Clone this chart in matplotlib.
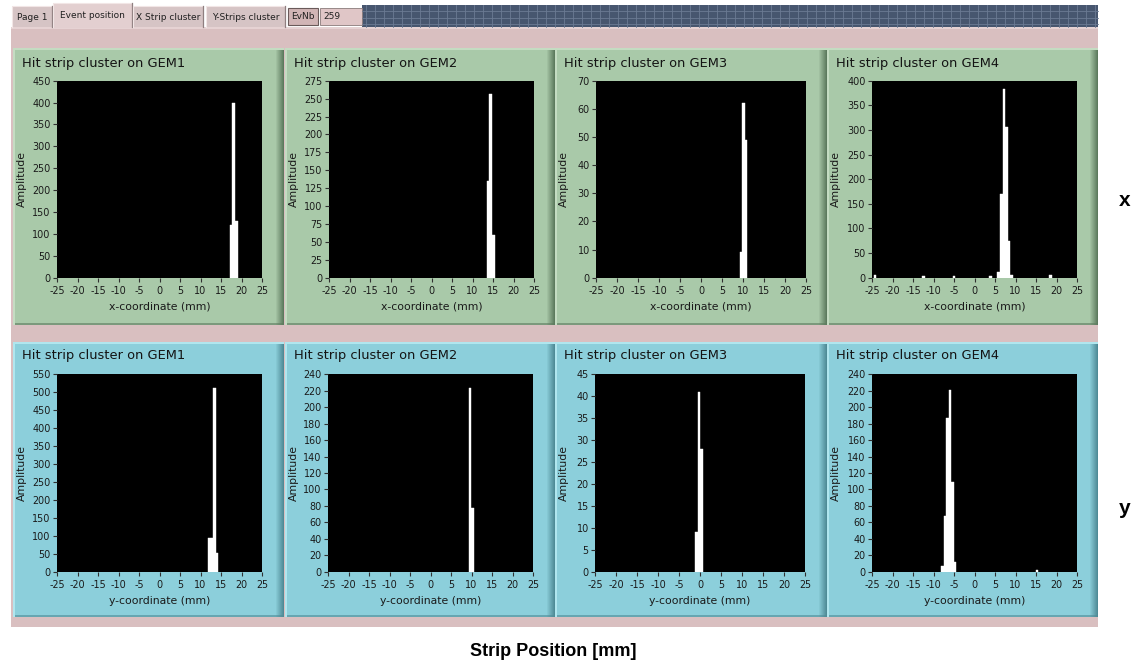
import matplotlib
matplotlib.use("Agg")
import matplotlib.pyplot as plt
from matplotlib.patches import Rectangle
import numpy as np

plt.rcParams["axes.unicode_minus"] = False

# ---- hit cluster data (strip position in mm, amplitude in ADC counts) ----
x_gem1_pos = [17.5, 18.1, 18.75]
x_gem1_amp = [120, 400, 130]
x_gem2_pos = [13.85, 14.45, 15.1]
x_gem2_amp = [135, 256, 60]
x_gem3_pos = [9.55, 10.15, 10.75]
x_gem3_amp = [9, 62, 49]
x_gem4_pos = [-24.3, -12.5, -5.0, 3.9, 5.8, 6.55, 7.2, 7.8, 8.38, 9.0, 18.6]
x_gem4_amp = [6, 3, 3, 4, 12, 170, 383, 305, 75, 5, 6]

y_gem1_pos = [12.2, 12.8, 13.4, 14.0]
y_gem1_amp = [95, 95, 511, 51]
y_gem2_pos = [9.65, 10.2]
y_gem2_amp = [223, 78]
y_gem3_pos = [-0.87, -0.24, 0.39]
y_gem3_amp = [9, 41, 28]
y_gem4_pos = [-7.75, -7.15, -6.57, -5.99, -5.42, -4.85, 15.2]
y_gem4_amp = [7, 68, 187, 221, 109, 12, 2]

x_ymax = [450, 275, 70, 400]
x_ystep = [50, 25, 10, 50]
y_ymax = [550, 240, 45, 240]
y_ystep = [50, 20, 5, 20]

gem_names = ["GEM1", "GEM2", "GEM3", "GEM4"]
x_ticks = list(range(-25, 26, 5))
tab_labels = ["Page 1", "Event position", "X Strip cluster", "Y-Strips cluster"]
event_number = "259"

# ---- figure in pixel units ----
W, H = 1136, 665
fig = plt.figure(figsize=(W / 100, H / 100), dpi=100)
fig.patch.set_facecolor("white")
bg = fig.add_axes([0, 0, 1, 1])
bg.set_xlim(0, W)
bg.set_ylim(H, 0)
bg.axis("off")
bg.set_zorder(0)

FONT = "DejaVu Sans"
PINK = "#d9bfc0"
GREEN = "#a9c9a9"
BLUE = "#8ccfdb"


def rect(x0, y0, x1, y1, color, **kw):
    bg.add_patch(Rectangle((x0, y0), x1 - x0, y1 - y0, facecolor=color,
                           edgecolor=kw.pop("ec", "none"), lw=kw.pop("lw", 0), **kw))


# tab strip
rect(362, 5, 1098, 27, "#47566f")
for gx in np.arange(366, 1098, 9):
    bg.plot([gx, gx], [5, 27], color="#6b7a94", lw=0.6)
for gy in (11, 18, 24):
    bg.plot([362, 1098], [gy, gy], color="#6b7a94", lw=0.6)

rect(11, 27, 1098, 627, PINK)
rect(11, 27, 1098, 29, "#e6d2d3")

tab_spans = [(12, 52), (53, 132), (133, 203), (206, 285)]
for i, ((tx0, tx1), lab) in enumerate(zip(tab_spans, tab_labels)):
    active = (i == 1)
    top = 3 if active else 6
    rect(tx0, top, tx1, 28 if active else 27, "#e3cfd0" if active else "#d6c4c5")
    bg.plot([tx0, tx0, tx1 - 1], [27, top, top], color="#f2e6e6", lw=0.8)
    bg.plot([tx1, tx1], [top, 27], color="#8f7f80", lw=0.9)
    bg.text((tx0 + tx1) / 2, 16 if active else 17, lab, fontsize=6.5, family=FONT,
            ha="center", va="center", color="#202020")
rect(288, 8, 318, 25, "#d1b5b6", ec="#6a5a5a", lw=0.8)
bg.text(303, 16.5, "EvNb", fontsize=6.5, family=FONT, ha="center", va="center", color="#202020")
rect(320, 8, 362, 25, "#e0c6c7", ec="#8a7a7a", lw=0.6)
bg.text(323, 16.5, event_number, fontsize=6.5, family=FONT, ha="left", va="center", color="#202020")

# panel frames
panel_x = [(13, 284), (285, 555), (555, 827), (827, 1098)]
rows = [
    dict(y0=48, y1=325, color=GREEN, light="#c4dcc2", dark="#5d7a5e",
         ax_y=(80.7, 277.7), title_y=63, coord="x",
         black_x=[(57, 262), (329, 534), (596, 806), (872, 1077)],
         pos=[x_gem1_pos, x_gem2_pos, x_gem3_pos, x_gem4_pos],
         amp=[x_gem1_amp, x_gem2_amp, x_gem3_amp, x_gem4_amp],
         ymax=x_ymax, ystep=x_ystep),
    dict(y0=342, y1=617, color=BLUE, light="#b0e6ee", dark="#4f8b96",
         ax_y=(374.3, 571.7), title_y=356, coord="y",
         black_x=[(57, 262), (328, 533), (595, 805), (872, 1077)],
         pos=[y_gem1_pos, y_gem2_pos, y_gem3_pos, y_gem4_pos],
         amp=[y_gem1_amp, y_gem2_amp, y_gem3_amp, y_gem4_amp],
         ymax=y_ymax, ystep=y_ystep),
]

for row in rows:
    y0, y1 = row["y0"], row["y1"]
    for k, (px0, px1) in enumerate(panel_x):
        rect(px0, y0, px1, y1, row["color"])
        rect(px0, y0, px1, y0 + 2, row["light"])
        rect(px0, y0, px0 + 2, y1, row["light"])
        # shaded right bevel
        c0 = np.array(matplotlib.colors.to_rgb(row["color"]))
        c1 = np.array(matplotlib.colors.to_rgb(row["dark"]))
        for j, s in enumerate(np.linspace(0, 1, 9)):
            rect(px1 - 9 + j, y0 + 2, px1 - 8 + j, y1, tuple(c0 + (c1 - c0) * s))
        rect(px0 + 2, y1 - 2, px1 - 1, y1, row["dark"], alpha=0.6)

        bx0, bx1 = row["black_x"][k]
        ay0, ay1 = row["ax_y"]
        ax = fig.add_axes([bx0 / W, 1 - ay1 / H, (bx1 - bx0) / W, (ay1 - ay0) / H])
        ax.set_zorder(1)
        ax.set_facecolor("black")
        ax.bar(row["pos"][k], row["amp"][k], width=0.62, color="white",
               edgecolor="white", linewidth=0.3, align="center")
        ax.set_xlim(-25, 25)
        ax.set_ylim(0, row["ymax"][k])
        ax.set_xticks(x_ticks)
        ax.set_yticks(np.arange(0, row["ymax"][k] + 1, row["ystep"][k]))
        ax.tick_params(direction="out", length=3, width=0.8, color="#303030",
                       labelsize=6.9, labelcolor="#1a1a1a")
        ax.tick_params(axis="x", pad=3)
        ax.tick_params(axis="y", pad=1.5)
        for lbl in ax.get_xticklabels() + ax.get_yticklabels():
            lbl.set_family(FONT)
        for sp in ax.spines.values():
            sp.set_visible(False)
        ax.set_xlabel(f"{row['coord']}-coordinate (mm)", fontsize=7.8, family=FONT,
                      color="#1a1a1a", labelpad=4)
        ax.set_ylabel("Amplitude", fontsize=7.8, family=FONT, color="#1a1a1a")
        ax.yaxis.set_label_coords((px0 + 14 - bx0) / (bx1 - bx0), 0.5)

        bg.text(px0 + 9, row["title_y"], f"Hit strip cluster on {gem_names[k]}",
                fontsize=9.4, family=FONT, ha="left", va="center", color="#141414")

# outer annotations
bg.text(1125, 200, "x", fontsize=15, family="Liberation Sans", weight="bold",
        ha="center", va="center", color="black")
bg.text(1125, 508, "y", fontsize=15, family="Liberation Sans", weight="bold",
        ha="center", va="center", color="black")
bg.text(553, 651, "Strip Position [mm]", fontsize=13, family="Liberation Sans",
        weight="bold", ha="center", va="center", color="black")

fig.savefig("out.png", dpi=100, facecolor="white")
